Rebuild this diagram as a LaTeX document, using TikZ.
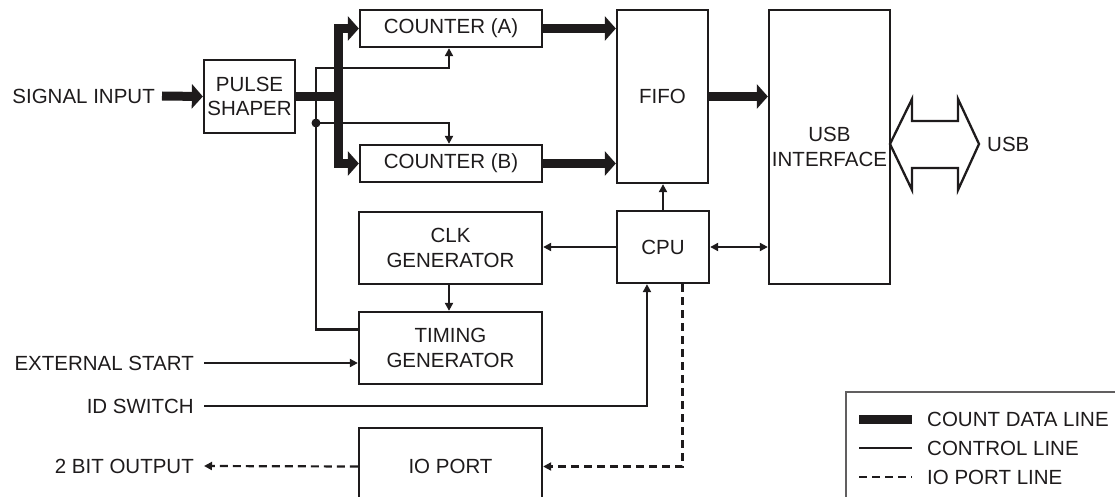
\documentclass[tikz,border=0pt]{standalone}
\usepackage{fontspec}
\setmainfont{Liberation Sans}
\usetikzlibrary{arrows.meta,calc}
\definecolor{ink}{RGB}{30,27,28}
\newcommand{\lblfont}{\fontsize{20.5}{24.5}\selectfont}
\begin{document}
\begin{tikzpicture}[x=1pt,y=-1pt,
  blk/.style={draw=ink, line width=2.3pt, inner sep=1pt, align=center, font=\lblfont, text=ink},
  lbl/.style={inner sep=0pt, font=\lblfont, text=ink},
  data/.style={draw=ink, line width=9pt},
  dataarrow/.style={data, -{Triangle[length=11pt,width=24pt]}},
  ctl/.style={draw=ink, line width=2.2pt},
  ctlarrow/.style={ctl, -{Triangle[length=8pt,width=8pt]}},
  ctlboth/.style={ctl, {Triangle[length=8pt,width=8pt]}-{Triangle[length=8pt,width=8pt]}},
  ioline/.style={draw=ink, line width=2.2pt, dash pattern=on 8pt off 5pt},
  ioarrow/.style={ioline, -{Triangle[length=8pt,width=8pt]}},
  legbox/.style={draw=ink!70, line width=1.2pt}
]
\useasboundingbox (0,0) rectangle (1115,497);
\clip (0,0) rectangle (1115,497);

% blocks
\node[blk, minimum width=91pt, minimum height=73pt] (ps) at (249.5,96.5) {PULSE\\SHAPER};
\node[blk, minimum width=182pt, minimum height=37pt] (cA) at (451,28.5) {COUNTER (A)};
\node[blk, minimum width=182pt, minimum height=37pt] (cB) at (451,163.5) {COUNTER (B)};
\node[blk, minimum width=91pt, minimum height=173pt] (fifo) at (662.5,96.5) {FIFO};
\node[blk, minimum width=121pt, minimum height=274pt] (usb) at (829.5,147) {USB\\INTERFACE};
\node[blk, minimum width=92pt, minimum height=72pt] (cpu) at (663,247) {CPU};
\node[blk, minimum width=183pt, minimum height=72pt] (clk) at (450.5,248) {CLK\\GENERATOR};
\node[blk, minimum width=183pt, minimum height=72pt] (tim) at (450.5,348) {TIMING\\GENERATOR};
\node[blk, minimum width=183pt, minimum height=77pt] (io) at (450.5,466.5) {IO PORT};

% left labels
\node[lbl, anchor=east] (sig) at (155,96) {SIGNAL INPUT};
\node[lbl, anchor=east] (ext) at (194,363) {EXTERNAL START};
\node[lbl, anchor=east] (ids) at (194,406) {ID SWITCH};
\node[lbl, anchor=east] (out) at (194,466) {2 BIT OUTPUT};
\node[lbl, anchor=west] (usbl) at (987,144) {USB};

% coordinates
\coordinate (bus) at (338,96.5);
\coordinate (vtop) at (316,68);
\coordinate (dot) at (316,123);
\coordinate (timW) at ($(tim.north west)!0.25!(tim.south west)$);
\coordinate (cpuIn) at ($(cpu.south west)!0.33!(cpu.south east)$);
\coordinate (cpuIo) at ($(cpu.south west)!0.707!(cpu.south east)$);

% count data lines
\draw[dataarrow] ([xshift=7pt]sig.east) -- (ps.west);
\draw[data] (ps.east) -- (bus);
\draw[dataarrow] (bus) |- (cA.west);
\draw[dataarrow] (bus) |- (cB.west);
\draw[dataarrow] (cA.east) -- (cA.east -| fifo.west);
\draw[dataarrow] (cB.east) -- (cB.east -| fifo.west);
\draw[dataarrow] (fifo.east) -- (fifo.east -| usb.west);

% control lines
\draw[ctlarrow] (timW) -| (vtop) -| ([xshift=-2pt]cA.south);
\draw[ctlarrow] (dot) -| ([xshift=-2pt]cB.north);
\fill[ink] (dot) circle (4.5);
\draw[ctlarrow] ([xshift=-1.5pt]clk.south) -- ([xshift=-1.5pt]tim.north);
\draw[ctlarrow] (cpu.west) -- (cpu.west -| clk.east);
\draw[ctlarrow] (cpu.north) -- (cpu.north |- fifo.south);
\draw[ctlboth] (cpu.east) -- (cpu.east -| usb.west);
\draw[ctlarrow] ([xshift=10pt]ext.east) -- (ext -| tim.west);
\draw[ctlarrow] ([xshift=10pt]ids.east) -| (cpuIn);

% io port lines
\draw[ioarrow] (cpuIo) |- (io.east);
\draw[ioarrow] (io.west) -- ([xshift=10pt]out.east);

% usb bidirectional hollow arrow
\draw[ink, line width=2.3pt, line join=miter]
  (890,144) -- (912,99) -- (912,121) -- (958,121) -- (958,99) -- (979,144)
  -- (958,190) -- (958,168) -- (912,168) -- (912,190) -- cycle;

% legend
\draw[legbox] (846,392) rectangle (1130,510);
\coordinate (l1) at (859,419);
\coordinate (l2) at (859,448);
\coordinate (l3) at (859,477);
\draw[draw=ink, line width=9pt] (l1) -- ++(53,0);
\draw[ctl] (l2) -- ++(53,0);
\draw[ioline] (l3) -- ++(53,0);
\node[lbl, anchor=west] (t1) at (927,419) {COUNT DATA LINE};
\node[lbl, anchor=west] (t2) at (927,448) {CONTROL LINE};
\node[lbl, anchor=west] (t3) at (927,477) {IO PORT LINE};
\end{tikzpicture}
\end{document}
